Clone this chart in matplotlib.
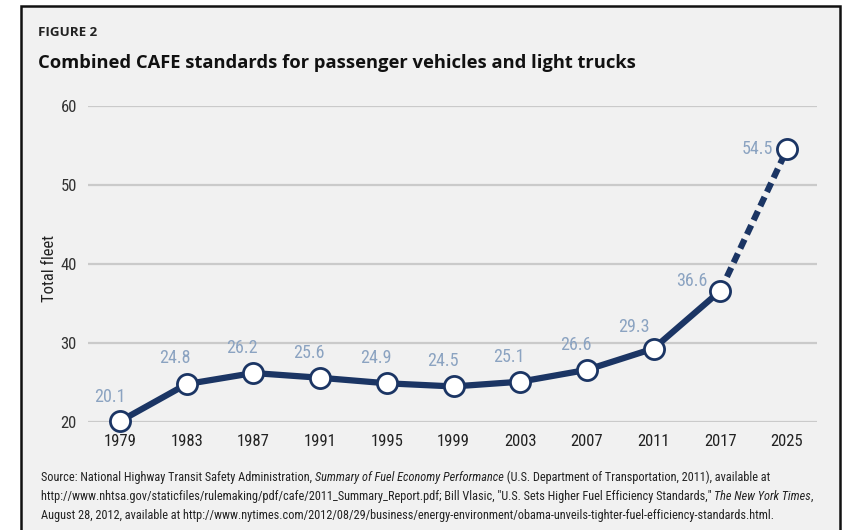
import matplotlib
matplotlib.use("Agg")
import matplotlib.pyplot as plt
from matplotlib.patches import Rectangle
from matplotlib import font_manager as fm

years = ["1979", "1983", "1987", "1991", "1995", "1999", "2003", "2007", "2011", "2017", "2025"]
values = [20.1, 24.8, 26.2, 25.6, 24.9, 24.5, 25.1, 26.6, 29.3, 36.6, 54.5]
y_ticks = [20, 30, 40, 50, 60]

names = {f.name for f in fm.fontManager.ttflist}
def pick(prefs):
    for p in prefs:
        if p in names:
            return p
    return "DejaVu Sans"
NARROW = pick(["Roboto Condensed", "Liberation Sans Narrow", "Open Sans Condensed",
               "Noto Sans Condensed", "Roboto", "Liberation Sans"])
BOLD = pick(["Open Sans", "Lato", "Roboto"])

W, H = 842, 530
fig = plt.figure(figsize=(W / 100, H / 100), dpi=100)
fig.patch.set_facecolor("white")

# panel background and border
fig.patches.append(Rectangle((21 / W, -0.05), (840 - 21) / W, (H - 6) / H + 0.05,
                             transform=fig.transFigure, facecolor="#f1f1f1",
                             edgecolor="#111111", linewidth=1.8, zorder=-10))

def px(x0, y0, x1, y1):
    return [x0 / W, 1 - y1 / H, (x1 - x0) / W, (y1 - y0) / H]

ax = fig.add_axes(px(88, 106, 817, 422))
ax.set_zorder(5)
ax.set_facecolor("none")
for s in ax.spines.values():
    s.set_visible(False)

x = list(range(len(years)))
navy = "#1b3564"
lab = "#8ba3c1"

ax.set_xlim(-0.48, 10.45)
ax.set_ylim(20, 60)
for t in y_ticks:
    ax.axhline(t, color="#cacaca", lw=1.6, zorder=1)

ax.plot(x[:-1], values[:-1], color=navy, lw=4.5, solid_capstyle="round", zorder=2, clip_on=False)
ax.plot(x[-2:], values[-2:], color=navy, lw=4.5, dashes=(1.6, 0.9), zorder=2, clip_on=False)
ax.plot(x, values, ls="none", marker="o", ms=14.5, mfc="white", mec=navy, mew=2.0,
        zorder=3, clip_on=False)

offsets = [(-10, 24), (-12, 26), (-11, 25), (-11, 25), (-11, 25), (-11, 25),
           (-11, 25), (-11, 25), (-20, 22), (-28, 10), (-30, 0)]
for xi, v, (dx, dy) in zip(x, values, offsets):
    ax.annotate(f"{v}", (xi, v), xytext=(dx, dy), textcoords="offset pixels",
                ha="center", va="center", color=lab, fontsize=13, family=NARROW,
                zorder=4, annotation_clip=False)

ax.set_xticks(x)
ax.set_xticklabels(years, family=NARROW, fontsize=12, color="#222222")
ax.set_yticks(y_ticks)
ax.set_yticklabels([str(t) for t in y_ticks], family=NARROW, fontsize=12, color="#333333")
ax.tick_params(length=0)
ax.tick_params(axis="x", pad=9)
ax.tick_params(axis="y", pad=8)
ax.set_ylabel("Total fleet", family=NARROW, fontsize=12, color="#222222", va="center")
ax.yaxis.set_label_coords((50 - 88) / (817 - 88), (422 - 268) / (422 - 106))

fig.canvas.draw()
r = fig.canvas.get_renderer()

def fit(t, target):
    for _ in range(3):
        w = t.get_window_extent(renderer=r).width
        t.set_fontsize(t.get_fontsize() * target / w)

t1 = fig.text(38 / W, 1 - 33 / H, "FIGURE 2", fontsize=9.5, fontweight="bold",
              family=BOLD, color="#222222", va="center", ha="left")
fit(t1, 59)
t2 = fig.text(38 / W, 1 - 63 / H, "Combined CAFE standards for passenger vehicles and light trucks",
              fontsize=16, fontweight="bold", family=BOLD, color="#111111",
              va="center", ha="left")
fit(t2, 596)

src = [
    [("Source: National Highway Transit Safety Administration, ", "normal"),
     ("Summary of Fuel Economy Performance", "italic"),
     (" (U.S. Department of Transportation, 2011), available at", "normal")],
    [("http://www.nhtsa.gov/staticfiles/rulemaking/pdf/cafe/2011_Summary_Report.pdf; Bill Vlasic, \"U.S. Sets Higher Fuel Efficiency Standards,\" ", "normal"),
     ("The New York Times", "italic"), (",", "normal")],
    [("August 28, 2012, available at http://www.nytimes.com/2012/08/29/business/energy-environment/obama-unveils-tighter-fuel-efficiency-standards.html.", "normal")],
]
X0 = 41

def place_line(parts, ypos, size):
    xpos = X0
    made = []
    for txt, style in parts:
        t = fig.text(xpos / W, 1 - ypos / H, txt, fontsize=size, family=NARROW,
                     style=style, color="#222222", va="center", ha="left")
        xpos += t.get_window_extent(renderer=r).width
        made.append(t)
    return made, xpos - X0

made, w = place_line(src[1], -100, 9)
size = 9 * (815 - X0) / w
for m in made:
    m.remove()
for i, line in enumerate(src):
    place_line(line, 477 + i * 19.5, size)

fig.savefig("out.png", dpi=100, facecolor="white")
